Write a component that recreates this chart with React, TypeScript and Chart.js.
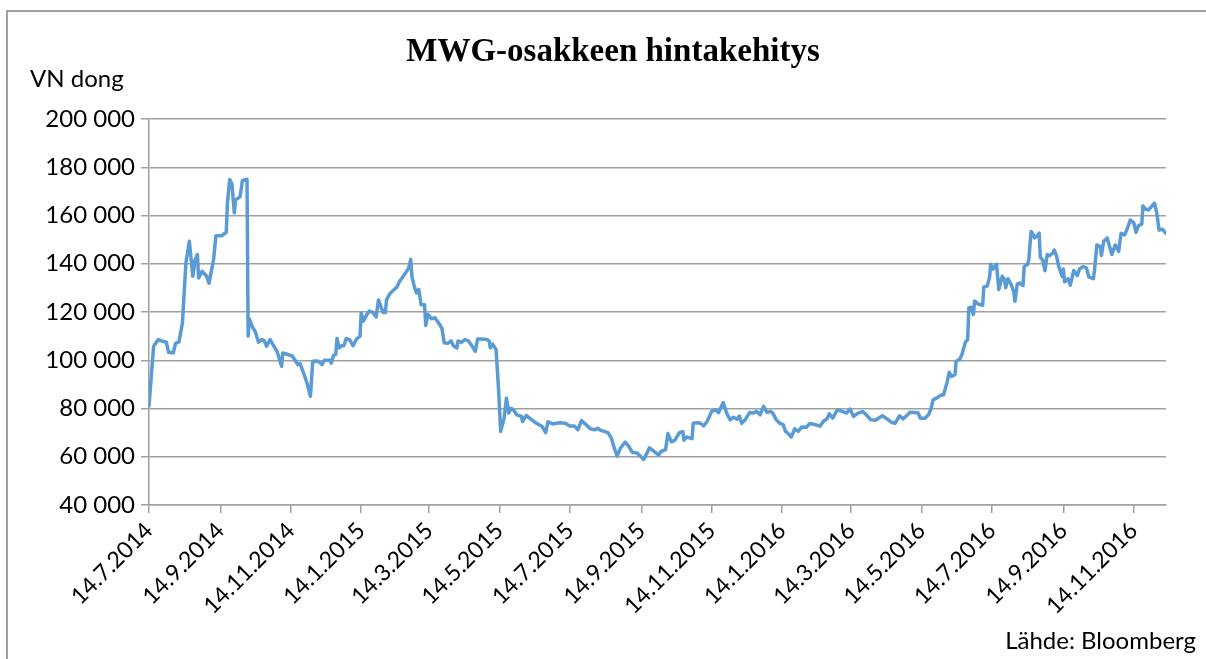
import React, { useEffect, useRef } from "react";
import { Chart, registerables } from "chart.js";

Chart.register(...registerables);

const dayOffsets = [
  0, 4, 8, 11, 15, 17, 21, 23, 26, 29, 32, 35, 38, 40, 42, 43, 46, 50, 52, 56,
  58, 63, 67, 68, 70, 72, 74, 75, 79, 81, 85, 86, 87, 90, 92, 95, 98, 100, 102, 105,
  108, 111, 113, 115, 116, 119, 124, 126, 129, 131, 134, 137, 140, 142, 145, 147, 150, 152, 157, 158,
  160, 162, 163, 165, 167, 169, 171, 174, 177, 180, 183, 184, 186, 189, 191, 194, 197, 199, 201, 203,
  205, 206, 209, 212, 215, 217, 222, 225, 227, 228, 230, 232, 234, 236, 239, 240, 242, 245, 248, 251,
  254, 256, 259, 262, 264, 267, 268, 271, 274, 277, 280, 283, 285, 288, 293, 295, 296, 298, 301, 303,
  305, 308, 310, 312, 314, 316, 319, 323, 324, 327, 332, 336, 341, 344, 346, 350, 356, 361, 365, 369,
  372, 375, 379, 383, 387, 389, 392, 398, 401, 404, 406, 409, 413, 416, 419, 423, 426, 429, 431, 434,
  438, 442, 444, 448, 450, 453, 456, 460, 463, 464, 466, 471, 472, 475, 478, 481, 484, 488, 491, 494,
  498, 501, 504, 507, 510, 512, 514, 517, 521, 524, 527, 530, 533, 536, 539, 541, 544, 547, 550, 552,
  554, 557, 560, 563, 566, 570, 573, 578, 582, 585, 588, 590, 593, 597, 601, 605, 608, 611, 615, 619,
  622, 626, 630, 634, 636, 640, 644, 647, 651, 654, 657, 660, 664, 667, 669, 673, 676, 678, 680, 683,
  687, 689, 692, 694, 696, 699, 700, 703, 705, 708, 710, 711, 713, 715, 716, 719, 723, 724, 727, 729,
  730, 732, 735, 737, 740, 742, 743, 745, 748, 750, 751, 753, 755, 758, 759, 762, 763, 765, 767, 768,
  770, 772, 773, 775, 777, 779, 781, 784, 785, 787, 789, 792, 793, 794, 797, 799, 802, 805, 807, 810,
  813, 815, 819, 820, 822, 825, 826, 828, 831, 835, 838, 841, 843, 846, 848, 851, 854, 856, 858, 861,
  862, 864, 867, 869, 872, 874, 876, 879, 882,
];

// MWG share price, VN dong
const prices = [
  81000, 105800, 108600, 108000, 107500, 103300, 103000, 107000, 107600, 115500, 140300, 149300, 134800, 141700, 143800, 134100, 136900, 134800, 131900, 141700,
  151600, 151600, 153000, 165200, 174900, 172900, 161100, 166400, 167800, 174500, 175000, 110000, 117100, 113500, 112000, 107500, 108600, 108000, 105800, 108600,
  106100, 103700, 100600, 97500, 103000, 102600, 101800, 100600, 98200, 98600, 94800, 90600, 85100, 99600, 99700, 99600, 98200, 100000, 100000, 98800,
  102000, 102400, 109000, 105100, 106000, 106000, 109000, 108500, 106000, 108800, 110000, 119600, 116200, 119000, 120400, 119800, 117900, 125000, 122300, 119800,
  119800, 125000, 127700, 129000, 130400, 132400, 135900, 138000, 141800, 134800, 130700, 127900, 129300, 123000, 123000, 114400, 119000, 117200, 117600, 115500,
  113400, 107200, 107000, 108000, 106000, 105100, 108000, 107400, 108600, 108000, 106000, 103700, 108800, 108800, 108600, 108000, 105100, 106700, 104400, 89200,
  70500, 76000, 84300, 78100, 80100, 79500, 77400, 76700, 74600, 77100, 75300, 73900, 72500, 70000, 74500, 73600, 74100, 73900, 72700, 72700,
  71200, 75000, 73300, 71500, 71200, 71800, 70900, 70000, 67700, 62800, 60300, 63700, 66100, 64400, 61900, 61600, 60300, 58900, 60700, 63700,
  62200, 60700, 62200, 62900, 69600, 66200, 66800, 70000, 70400, 66800, 68200, 67500, 73900, 74100, 74000, 72800, 74600, 78800, 79500, 78300,
  82500, 78100, 75300, 76400, 75500, 76900, 73900, 75300, 78400, 78100, 78800, 77400, 80900, 78400, 78800, 78100, 75300, 73900, 73300, 70500,
  69800, 68200, 71600, 70500, 72300, 72200, 73800, 73300, 72700, 74700, 75700, 77800, 76000, 79500, 78800, 78100, 79800, 76700, 78100, 78700,
  77400, 75300, 75100, 76400, 77000, 75700, 74200, 73900, 77000, 75700, 77000, 78400, 78300, 78100, 76000, 76000, 77400, 79500, 83600, 84300,
  85600, 85600, 90600, 95000, 93300, 94000, 99600, 100300, 102400, 107500, 108600, 121700, 122000, 119000, 124600, 123300, 122800, 130400, 130700, 134500,
  139800, 137800, 139800, 129300, 134800, 133500, 130100, 133800, 131100, 128200, 124400, 131600, 132000, 131000, 138800, 139800, 141700, 153400, 152000, 150700,
  151400, 152700, 142700, 141600, 137100, 143800, 143400, 144500, 145700, 143400, 138800, 134800, 137800, 132500, 133800, 131100, 137200, 135100, 137800, 138800,
  138300, 134600, 133800, 137200, 147800, 147100, 143400, 149300, 150700, 143800, 147800, 145100, 152600, 151900, 154000, 158100, 157000, 153000, 155700, 156500,
  164000, 162700, 162300, 163500, 165100, 161000, 154000, 154300, 152600,
];

// X-axis tick dates (day.month.year)
const tickDates = [
  "14.7.2014", "14.9.2014", "14.11.2014", "14.1.2015", "14.3.2015", "14.5.2015", "14.7.2015",
  "14.9.2015", "14.11.2015", "14.1.2016", "14.3.2016", "14.5.2016", "14.7.2016", "14.9.2016", "14.11.2016",
];

const yTicks = [40000, 60000, 80000, 100000, 120000, 140000, 160000, 180000, 200000];

const TITLE = "MWG-osakkeen hintakehitys";
const Y_LABEL = "VN dong";
const SOURCE = "Lähde: Bloomberg";

const BASE = Date.UTC(2014, 6, 14);
const dayOf = (s: string) => {
  const [d, m, y] = s.split(".").map(Number);
  return Math.round((Date.UTC(y, m - 1, d) - BASE) / 86400000);
};
const tickDays = tickDates.map(dayOf);
const fmt = (v: number) => String(v).replace(/\B(?=(\d{3})+(?!\d))/g, " ");

const GRAY = "#A0A0A0";
const FONT = "Lato";

export default function App() {
  const ref = useRef<HTMLCanvasElement | null>(null);

  useEffect(() => {
    if (!ref.current) return;
    const chart = new Chart(ref.current, {
      type: "line",
      data: {
        datasets: [
          {
            data: dayOffsets.map((d, i) => ({ x: d, y: prices[i] })),
            borderColor: "#5B9BD5",
            borderWidth: 3.5,
            pointRadius: 0,
            tension: 0,
            fill: false,
            borderJoinStyle: "round",
            borderCapStyle: "round",
          },
        ],
      },
      options: {
        animation: false,
        responsive: false,
        layout: { padding: { left: 0, right: 40, top: 119, bottom: 0 } },
        plugins: { legend: { display: false }, title: { display: false }, tooltip: { enabled: false } },
        scales: {
          x: {
            type: "linear",
            min: 0,
            max: dayOffsets[dayOffsets.length - 1],
            afterBuildTicks: (scale: any) => {
              scale.ticks = tickDays.map((v) => ({ value: v }));
            },
            afterFit: (scale: any) => {
              scale.height = 154;
            },
            ticks: {
              autoSkip: false,
              minRotation: 45,
              maxRotation: 45,
              padding: 4,
              color: "#000",
              font: { family: FONT, size: 23 },
              callback: (v: any) => {
                const i = tickDays.indexOf(Number(v));
                return i >= 0 ? tickDates[i] : "";
              },
            },
            grid: { drawOnChartArea: false, drawTicks: true, tickLength: 8, color: GRAY, lineWidth: 1.5 },
            border: { display: true, color: GRAY, width: 1.5 },
          },
          y: {
            min: 40000,
            max: 200000,
            afterBuildTicks: (scale: any) => {
              scale.ticks = yTicks.map((v) => ({ value: v }));
            },
            afterFit: (scale: any) => {
              scale.width = 149;
            },
            ticks: {
              padding: 6,
              color: "#000",
              font: { family: FONT, size: 24 },
              callback: (v: any) => fmt(Number(v)),
            },
            grid: { color: GRAY, lineWidth: 1.5, tickLength: 8, drawTicks: true },
            border: { display: true, color: GRAY, width: 1.5 },
          },
        },
      },
    });
    return () => chart.destroy();
  }, []);

  return (
    <div style={{ position: "absolute", left: 0, top: 0, width: 1206, height: 659, background: "#fff", overflow: "hidden" }}>
      <div
        style={{
          position: "absolute",
          left: 6,
          top: 10,
          width: 1220,
          height: 700,
          borderTop: `2px solid ${GRAY}`,
          borderLeft: `2px solid ${GRAY}`,
        }}
      />
      <canvas ref={ref} width={1206} height={659} style={{ position: "absolute", left: 0, top: 0 }} />
      <div
        style={{
          position: "absolute",
          left: 0,
          width: 1226,
          top: 30,
          textAlign: "center",
          fontFamily: "'Liberation Serif', serif",
          fontWeight: "bold",
          fontSize: 33,
          lineHeight: "40px",
          color: "#000",
        }}
      >
        {TITLE}
      </div>
      <div
        style={{
          position: "absolute",
          left: 30,
          top: 62,
          fontFamily: FONT,
          fontSize: 24,
          lineHeight: "32px",
          color: "#000",
        }}
      >
        {Y_LABEL}
      </div>
      <div
        style={{
          position: "absolute",
          right: 10,
          top: 624,
          fontFamily: FONT,
          fontSize: 24,
          lineHeight: "32px",
          color: "#000",
        }}
      >
        {SOURCE}
      </div>
    </div>
  );
}
